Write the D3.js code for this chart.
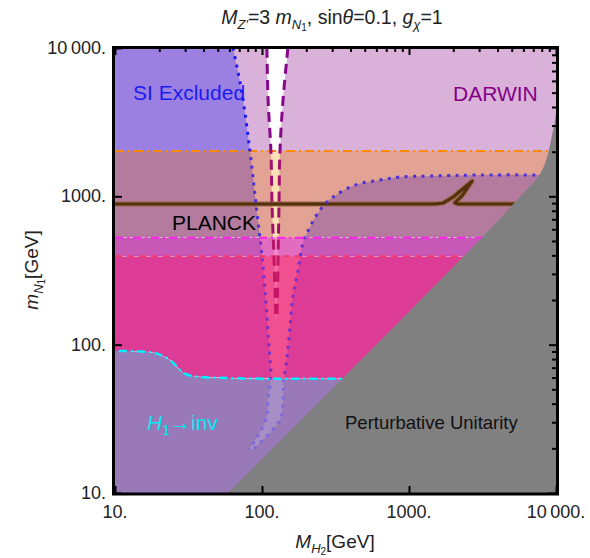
<!DOCTYPE html>
<html>
<head>
<meta charset="utf-8">
<script src="https://cdn.jsdelivr.net/npm/d3@7"></script>
<style>
  body { margin: 0; background: #fff; }
  text { font-family: "Liberation Sans", Arial, sans-serif; }
</style>
</head>
<body>
<div id="chart"></div>
<script>
// ---- data (M_H2, m_N1) in GeV ----
var majorTicks = [10, 100, 1000, 10000];
var tickLabels = ["10.", "100.", "1000.", "10\u2009000."];

// horizontal limits
var orangeLimit = 2018;
var magentaLimit = 525;
var redLimit = 395;

// H1 -> inv (cyan)
var cyanCurve = [[8, 90.6], [15, 90], [19.3, 87], [24, 78], [29, 65], [34, 61.4], [12000, 61.4]];

// SI excluded boundary (blue dotted funnel)
var siLeft = [[63.5, 10000], [73, 5000], [82.8, 2018], [91, 887], [100, 395], [106, 200],
  [112, 92], [115, 61.4], [110, 42.3], [106, 31], [81.6, 19.5]];
var siRight = [[88.3, 20], [132, 31], [139, 42.3], [140, 55], [148, 82], [155, 131.5],
  [162, 209], [176, 318], [190, 484], [212, 621], [248, 809], [304, 988], [430, 1191],
  [635, 1288], [868, 1350], [1390, 1370], [3040, 1393], [10000, 1393]];

// DARWIN boundary (purple dashed funnel)
var dwLeft = [[108, 10000], [110, 4460], [115, 2018], [117, 887], [120.8, 372], [124.5, 147]];
var dwRight = [[150, 10000], [139, 4460], [132.5, 2018], [130.5, 887], [128.6, 372], [126.5, 153]];

// PLANCK relic line
var planck = [[10, 887], [1500, 887], [1700, 900], [2000, 990], [2686, 1268], [2300, 1010],
  [2050, 905], [2150, 887], [10000, 887]];

// perturbative unitarity edge
var unitarity = [[58.8, 10], [1000, 167], [3000, 505], [5400, 940], [8000, 1480], [9500, 2700], [10000, 3600]];

// ---- layout ----
var W = 590, H = 558;
var x = d3.scaleLog().domain([10, 10000]).range([115, 556]);
var y = d3.scaleLog().domain([10, 10000]).range([493, 48]);

var svg = d3.select("#chart").append("svg").attr("width", W).attr("height", H);
var defs = svg.append("defs");

defs.append("clipPath").attr("id", "plotClip")
  .append("rect").attr("x", x(10)).attr("y", y(10000))
  .attr("width", x(10000) - x(10)).attr("height", y(10) - y(10000));

var straight = d3.line().x(function (d) { return x(d[0]); }).y(function (d) { return y(d[1]); });
var smooth = d3.line().x(function (d) { return x(d[0]); }).y(function (d) { return y(d[1]); })
  .curve(d3.curveCatmullRom.alpha(0.5));

function seg(pts, first, curved) {
  var s = (curved ? smooth : straight)(pts);
  return first ? s : "L" + s.slice(1);
}

var siAllowed = seg(siLeft, true, true) + seg(siRight, false, true) +
  seg([[12000, 1393], [12000, 12000], [63.5, 12000]], false, false) + "Z";
var dwHole = seg([[108, 12000]].concat(dwLeft), true, true) +
  seg(dwRight.slice().reverse().concat([[150, 12000]]), false, true) + "Z";

// bands between the horizontal limits; each colour set = outside SI funnel,
// inside SI funnel, inside DARWIN funnel; dot/dash = line colours in that band
var bands = [
  { id: "bA", path: seg([[8, orangeLimit], [12000, orangeLimit], [12000, 12000], [8, 12000]], true, false) + "Z",
    si: "#9b80e2", dw: "#d9b1d9", hole: "#ffffff", dot: "#1a1af5", dash: "#86078a" },
  { id: "bB", path: seg([[8, magentaLimit], [12000, magentaLimit], [12000, orangeLimit], [8, orangeLimit]], true, false) + "Z",
    si: "#b47b9e", dw: "#e3a394", hole: "#fde0b6", dot: "#4a32d6", dash: "#a0106e" },
  { id: "bC", path: seg([[8, redLimit], [12000, redLimit], [12000, magentaLimit], [8, magentaLimit]], true, false) + "Z",
    si: "#c858b6", dw: "#e26cc0", hole: "#f088c6", dot: "#6a32cc", dash: "#b8146a" },
  { id: "bD", path: seg(cyanCurve, true, true) + seg([[12000, redLimit], [8, redLimit]], false, false) + "Z",
    si: "#dc3c96", dw: "#f0508f", hole: "#f46aa0", dot: "#7a30c4", dash: "#c41566" },
  { id: "bE", path: seg(cyanCurve, true, true) + seg([[12000, 8], [8, 8]], false, false) + "Z",
    si: "#9a79b8", dw: "#a88ec6", hole: "#a88ec6", dot: "#7c6adc", dash: "#c41566" }
];

var plot = svg.append("g").attr("clip-path", "url(#plotClip)");

bands.forEach(function (b) {
  defs.append("clipPath").attr("id", b.id).append("path").attr("d", b.path);
  var g = plot.append("g").attr("clip-path", "url(#" + b.id + ")");
  g.append("path").attr("d", b.path).attr("fill", b.si);
  g.append("path").attr("d", siAllowed).attr("fill", b.dw);
  g.append("path").attr("d", dwHole).attr("fill", b.hole);
});

// boundary lines
function hline(v, color, width, dash) {
  plot.append("path").attr("d", straight([[10, v], [10000, v]]))
    .attr("fill", "none").attr("stroke", color).attr("stroke-width", width)
    .attr("stroke-dasharray", dash);
}
hline(orangeLimit, "#ff8a00", 2, "9,4,2,4");
hline(magentaLimit, "#ff22ee", 2, "8,4,2,4");
hline(redLimit, "#f5386e", 2, "7,5");

plot.append("path").attr("d", smooth(cyanCurve))
  .attr("fill", "none").attr("stroke", "#00f0ff").attr("stroke-width", 2.5)
  .attr("stroke-dasharray", "8,4,2,4");

// PLANCK
plot.append("path").attr("d", straight(planck))
  .attr("fill", "none").attr("stroke", "#9a6a48").attr("stroke-width", 5).attr("stroke-linejoin", "round");
plot.append("path").attr("d", straight(planck))
  .attr("fill", "none").attr("stroke", "#55300f").attr("stroke-width", 3).attr("stroke-linejoin", "round");

// SI dotted and DARWIN dashed funnels, coloured per band
bands.forEach(function (b) {
  var g = plot.append("g").attr("clip-path", "url(#" + b.id + ")");
  [siLeft, siRight].forEach(function (c) {
    g.append("path").attr("d", smooth(c))
      .attr("fill", "none").attr("stroke", b.dot)
      .attr("stroke-width", 3).attr("stroke-dasharray", "3,5.5");
  });
  [dwLeft, dwRight].forEach(function (c) {
    g.append("path").attr("d", smooth(c))
      .attr("fill", "none").attr("stroke", b.dash)
      .attr("stroke-width", 3).attr("stroke-dasharray", "10,6");
  });
});

// perturbative unitarity (grey)
plot.append("path")
  .attr("d", seg(unitarity, true, true) + seg([[12000, 3600], [12000, 8], [55, 8]], false, false) + "Z")
  .attr("fill", "#808080");

// ---- frame and ticks ----
var frame = svg.append("g");
function minorVals() {
  var v = [];
  [10, 100, 1000].forEach(function (d) { for (var k = 2; k <= 9; k++) v.push(k * d); });
  return v;
}
frame.append("g").attr("transform", "translate(0," + y(10000) + ")")
  .call(d3.axisTop(x).tickValues(majorTicks).tickSize(-7).tickFormat(""));
frame.append("g").attr("transform", "translate(0," + y(10000) + ")")
  .call(d3.axisTop(x).tickValues(minorVals()).tickSize(-4).tickFormat(""));
frame.append("g").attr("transform", "translate(" + x(10000) + ",0)")
  .call(d3.axisRight(y).tickValues(majorTicks).tickSize(-7).tickFormat(""));
frame.append("g").attr("transform", "translate(" + x(10000) + ",0)")
  .call(d3.axisRight(y).tickValues(minorVals()).tickSize(-4).tickFormat(""));
frame.append("g").attr("transform", "translate(0," + y(10) + ")")
  .call(d3.axisBottom(x).tickValues(majorTicks).tickSize(-7).tickFormat(""));
frame.append("g").attr("transform", "translate(" + x(10) + ",0)")
  .call(d3.axisLeft(y).tickValues(majorTicks).tickSize(-7).tickFormat(""));
frame.selectAll(".domain").remove();
frame.selectAll(".tick line").attr("stroke", "#000").attr("stroke-width", 2);

svg.append("rect")
  .attr("x", x(10) - 1.5).attr("y", y(10000) - 0.5)
  .attr("width", x(10000) - x(10) + 3).attr("height", y(10) - y(10000) + 1.5)
  .attr("fill", "none").attr("stroke", "#000").attr("stroke-width", 3);

// tick labels
svg.append("g").selectAll("text").data(majorTicks).enter().append("text")
  .attr("x", function (d) { return x(d); }).attr("y", 518)
  .attr("text-anchor", "middle").attr("font-size", 18).attr("fill", "#222")
  .text(function (d, i) { return tickLabels[i]; });
svg.append("g").selectAll("text").data(majorTicks).enter().append("text")
  .attr("x", 106).attr("y", function (d) { return y(d) + 6; })
  .attr("text-anchor", "end").attr("font-size", 18).attr("fill", "#222")
  .text(function (d, i) { return tickLabels[i]; });

// ---- titles ----
var title = svg.append("text").attr("x", 332).attr("y", 24).attr("text-anchor", "middle")
  .attr("font-size", 19.5).attr("fill", "#222");
title.append("tspan").attr("font-style", "italic").text("M");
title.append("tspan").attr("font-style", "italic").attr("font-size", 13).attr("dy", 5).text("Z\u2032");
title.append("tspan").attr("dy", -5).text("=3 ");
title.append("tspan").attr("font-style", "italic").text("m");
title.append("tspan").attr("font-style", "italic").attr("font-size", 13).attr("dy", 5).text("N");
title.append("tspan").attr("font-size", 10).attr("dy", 2).text("1");
title.append("tspan").attr("dy", -7).text(", sin");
title.append("tspan").attr("font-style", "italic").text("\u03b8");
title.append("tspan").text("=0.1, ");
title.append("tspan").attr("font-style", "italic").text("g");
title.append("tspan").attr("font-style", "italic").attr("font-size", 13).attr("dy", 5).text("\u03c7");
title.append("tspan").attr("dy", -5).text("=1");

var xl = svg.append("text").attr("x", 335).attr("y", 548).attr("text-anchor", "middle")
  .attr("font-size", 19).attr("fill", "#222");
xl.append("tspan").attr("font-style", "italic").text("M");
xl.append("tspan").attr("font-style", "italic").attr("font-size", 13).attr("dy", 5).text("H");
xl.append("tspan").attr("font-size", 10).attr("dy", 2).text("2");
xl.append("tspan").attr("dy", -7).text("[GeV]");

var yl = svg.append("text").attr("transform", "translate(38,270) rotate(-90)")
  .attr("text-anchor", "middle").attr("font-size", 19).attr("fill", "#222");
yl.append("tspan").attr("font-style", "italic").text("m");
yl.append("tspan").attr("font-style", "italic").attr("font-size", 13).attr("dy", 5).text("N");
yl.append("tspan").attr("font-size", 10).attr("dy", 2).text("1");
yl.append("tspan").attr("dy", -7).text("[GeV]");

// ---- region labels ----
svg.append("text").attr("x", 133).attr("y", 100).attr("font-size", 21).attr("fill", "#1c1cf0").text("SI Excluded");
svg.append("text").attr("x", 453).attr("y", 101).attr("font-size", 21).attr("fill", "#850085").text("DARWIN");
svg.append("text").attr("x", 172).attr("y", 230).attr("font-size", 21).attr("fill", "#000").text("PLANCK");
var hinv = svg.append("text").attr("x", 147).attr("y", 430).attr("font-size", 21).attr("fill", "#00eaf2");
hinv.append("tspan").attr("font-style", "italic").text("H");
hinv.append("tspan").attr("font-size", 14).attr("dy", 5).text("1");
hinv.append("tspan").attr("dy", -5).text("\u2192inv");
svg.append("text").attr("x", 345).attr("y", 429).attr("font-size", 18.5).attr("fill", "#111").text("Perturbative Unitarity");
</script>
</body>
</html>
